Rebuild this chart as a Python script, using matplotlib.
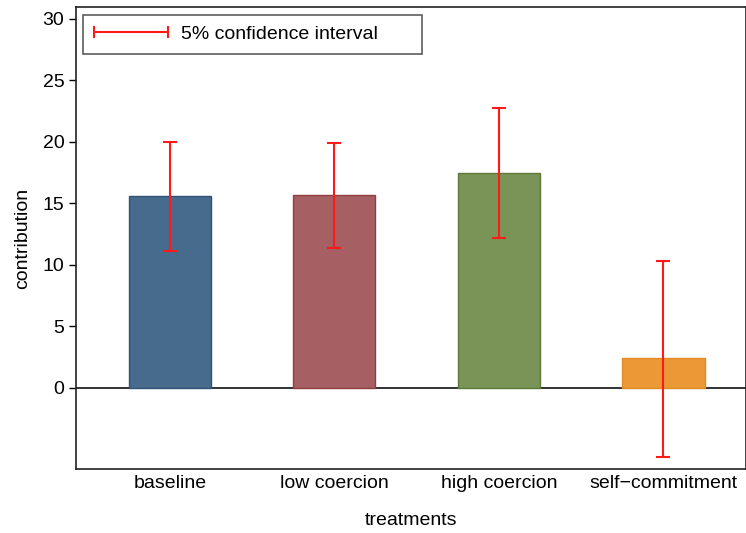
import matplotlib.pyplot as plt
import numpy as np
from matplotlib.legend_handler import HandlerBase
from matplotlib.lines import Line2D

plt.rcParams['font.family'] = ['Liberation Sans', 'DejaVu Sans']

# data
treatments = ['baseline', 'low coercion', 'high coercion', 'self\u2212commitment']
contribution = [15.6, 15.7, 17.5, 2.4]
ci_low = [11.1, 11.4, 12.2, -5.6]
ci_high = [20.0, 19.9, 22.8, 10.3]

colors = ['#476b8c', '#a65f62', '#7a9457', '#eb9836']
edges = ['#2f5275', '#8f3e44', '#5d7a3d', '#e08a24']
ci_color = '#ff1a1a'


# horizontal line with end caps, like the stata legend key
class HandlerCapLine(HandlerBase):
    def create_artists(self, legend, orig_handle, xdescent, ydescent,
                       width, height, fontsize, trans):
        y = height / 2 - ydescent
        x0, x1 = -xdescent, width - xdescent
        cap = height * 0.35
        arts = [Line2D([x0, x1], [y, y], color=ci_color, lw=1.5),
                Line2D([x0, x0], [y - cap, y + cap], color=ci_color, lw=1.5),
                Line2D([x1, x1], [y - cap, y + cap], color=ci_color, lw=1.5)]
        for a in arts:
            a.set_transform(trans)
        return arts


fig, ax = plt.subplots(figsize=(7.46, 5.33), dpi=100)
fig.subplots_adjust(left=0.102, right=0.9995, top=0.987, bottom=0.12)

x = np.arange(len(treatments))
ax.bar(x, contribution, width=0.5, color=colors, edgecolor=edges, linewidth=1, zorder=2)

# error bars
lo = np.array(contribution) - np.array(ci_low)
hi = np.array(ci_high) - np.array(contribution)
eb = ax.errorbar(x, contribution, yerr=[lo, hi], fmt='none', ecolor=ci_color,
                 elinewidth=1.5, capsize=5, capthick=1.5, zorder=3)

ax.axhline(0, color='#222222', linewidth=1.3, zorder=1)

ax.set_xlim(-0.57, 3.5)
ax.set_ylim(-6.6, 30.98)
ax.set_yticks([0, 5, 10, 15, 20, 25, 30])
ax.set_xticks(x)
ax.set_xticklabels(treatments)
ax.tick_params(axis='x', length=0, labelsize=14, pad=4)
ax.tick_params(axis='y', length=5, labelsize=14, width=1)

ax.set_xlabel('treatments', fontsize=14, labelpad=15)
ax.set_ylabel('contribution', fontsize=14, labelpad=8)

for s in ax.spines.values():
    s.set_linewidth(1.2)
    s.set_color('#222222')

proxy = Line2D([], [], color=ci_color)
leg = ax.legend([proxy], ['5% confidence interval' + '\u2007' * 3], handler_map={Line2D: HandlerCapLine()},
                loc='upper left', bbox_to_anchor=(0.002, 0.996), fontsize=14,
                frameon=True, fancybox=False, edgecolor='#333333',
                handlelength=3.8, borderpad=0.55, handletextpad=0.7, borderaxespad=0.3)
leg.get_frame().set_linewidth(1.2)

fig.savefig('out.png', dpi=100)
